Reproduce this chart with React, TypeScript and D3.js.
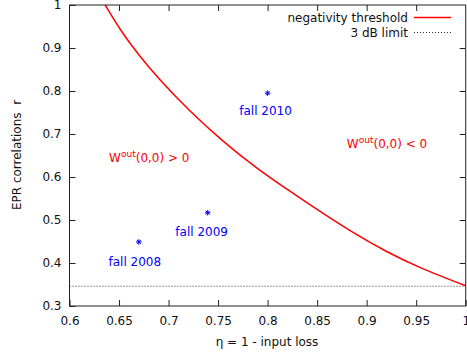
import React, { useEffect, useRef } from 'react';
import * as d3 from 'd3';

// axis ticks
const etaTicks = [0.6, 0.65, 0.7, 0.75, 0.8, 0.85, 0.9, 0.95, 1];
const rTicks = [0.3, 0.4, 0.5, 0.6, 0.7, 0.8, 0.9, 1];

// negativity threshold curve
const thresholdEta = [0.636, 0.651, 0.671, 0.691, 0.72, 0.755, 0.789, 0.823, 0.852, 0.887, 0.92, 0.954, 1.0];
const thresholdR = [1.0, 0.942, 0.88, 0.826, 0.756, 0.682, 0.62, 0.566, 0.521, 0.469, 0.426, 0.388, 0.347];

// 3 dB limit
const limit3dB = 0.346;

// measured runs
const runLabels = ['fall 2008', 'fall 2009', 'fall 2010'];
const runEta = [0.670, 0.7395, 0.800];
const runR = [0.449, 0.517, 0.795];

const App = () => {
  const svgRef = useRef<SVGSVGElement>(null);

  useEffect(() => {
    document.body.style.margin = '0';
    const W = 467, H = 356;
    const margin = { top: 5, right: 1.3, bottom: 50, left: 69.5 };
    const width = W - margin.left - margin.right;
    const height = H - margin.top - margin.bottom;
    const font = '"DejaVu Sans", sans-serif';

    d3.select(svgRef.current).selectAll('*').remove();

    const svg = d3.select(svgRef.current)
      .attr('width', W)
      .attr('height', H)
      .style('font-family', font);

    const g = svg.append('g')
      .attr('transform', `translate(${margin.left},${margin.top})`);

    const x = d3.scaleLinear().domain([0.6, 1]).range([0, width]);
    const y = d3.scaleLinear().domain([0.3, 1]).range([height, 0]);

    const fmt = d3.format('~g');

    // axes with inward ticks, mirrored
    g.append('g')
      .attr('transform', `translate(0,${height})`)
      .call(d3.axisBottom(x).tickValues(etaTicks).tickFormat(fmt as any)
        .tickSizeInner(-6).tickSizeOuter(0).tickPadding(10.5))
      .call(a => a.select('.domain').remove())
      .call(a => a.selectAll('.tick line').attr('stroke', '#222'))
      .call(a => a.selectAll('.tick text').attr('fill', '#111')
        .style('font-size', '12px').style('font-family', font));

    g.append('g')
      .call(d3.axisTop(x).tickValues(etaTicks.slice(1, -1)).tickFormat(() => '')
        .tickSizeInner(-6).tickSizeOuter(0))
      .call(a => a.select('.domain').remove())
      .call(a => a.selectAll('.tick line').attr('stroke', '#222'));

    g.append('g')
      .call(d3.axisLeft(y).tickValues(rTicks).tickFormat(fmt as any)
        .tickSizeInner(-6).tickSizeOuter(0).tickPadding(8))
      .call(a => a.select('.domain').remove())
      .call(a => a.selectAll('.tick line').attr('stroke', '#222'))
      .call(a => a.selectAll('.tick text').attr('fill', '#111')
        .style('font-size', '12px').style('font-family', font));

    g.append('g')
      .attr('transform', `translate(${width},0)`)
      .call(d3.axisRight(y).tickValues(rTicks.slice(1, -1)).tickFormat(() => '')
        .tickSizeInner(-6).tickSizeOuter(0))
      .call(a => a.select('.domain').remove())
      .call(a => a.selectAll('.tick line').attr('stroke', '#222'));

    // 3 dB limit
    g.append('line')
      .attr('x1', 0).attr('x2', width)
      .attr('y1', y(limit3dB)).attr('y2', y(limit3dB))
      .attr('stroke', '#333')
      .attr('stroke-width', 1)
      .attr('stroke-dasharray', '1,2');

    // threshold curve (smoothed through the read-off points)
    const pts = thresholdEta.map((e, i) => [e, thresholdR[i]] as [number, number]);
    const line = d3.line<[number, number]>()
      .x(d => x(d[0]))
      .y(d => y(d[1]))
      .curve(d3.curveBasis);
    g.append('path')
      .datum(pts)
      .attr('d', line)
      .attr('fill', 'none')
      .attr('stroke', '#ff0000')
      .attr('stroke-width', 1.5);

    // border
    g.append('rect')
      .attr('x', 0).attr('y', 0)
      .attr('width', width).attr('height', height)
      .attr('fill', 'none')
      .attr('stroke', '#222')
      .attr('stroke-width', 1);

    // measured points
    const s = 2.8, d = 2.0;
    const star = `M${-s},0H${s}M0,${-s}V${s}M${-d},${-d}L${d},${d}M${-d},${d}L${d},${-d}`;
    const labelDx = [-4, -6, -2];
    const labelDy = [23.7, 23, 21.7];
    runLabels.forEach((lab, i) => {
      const px = x(runEta[i]), py = y(runR[i]);
      g.append('path')
        .attr('d', star)
        .attr('transform', `translate(${px},${py})`)
        .attr('stroke', '#0000ff')
        .attr('stroke-width', 1)
        .attr('fill', 'none');
      g.append('text')
        .attr('x', px + labelDx[i])
        .attr('y', py + labelDy[i])
        .attr('text-anchor', 'middle')
        .attr('fill', '#0000ff')
        .style('font-size', '12px')
        .text(lab);
    });

    // region annotations
    const regions = [
      { eta: 0.64, r: 0.635, sign: '> 0' },
      { eta: 0.88, r: 0.667, sign: '< 0' },
    ];
    regions.forEach(reg => {
      const t = g.append('text')
        .attr('x', x(reg.eta))
        .attr('y', y(reg.r))
        .attr('fill', '#ff0000')
        .style('font-size', '12px');
      t.append('tspan').text('W');
      t.append('tspan').attr('dy', -5).style('font-size', '9px').text('out');
      t.append('tspan').attr('dy', 5).text(`(0,0) ${reg.sign}`);
    });

    // legend
    const legend = svg.append('g');
    const items = [
      { label: 'negativity threshold', color: '#ff0000', dash: null, w: 1.5 },
      { label: '3 dB limit', color: '#333', dash: '1,2', w: 1 },
    ];
    items.forEach((it, i) => {
      const ly = 17.5 + i * 15;
      legend.append('text')
        .attr('x', 408)
        .attr('y', ly)
        .attr('dy', '0.35em')
        .attr('text-anchor', 'end')
        .attr('fill', '#111')
        .style('font-size', '12px')
        .text(it.label);
      legend.append('line')
        .attr('x1', 414).attr('x2', 451)
        .attr('y1', ly).attr('y2', ly)
        .attr('stroke', it.color)
        .attr('stroke-width', it.w)
        .attr('stroke-dasharray', it.dash);
    });

    // axis titles
    svg.append('text')
      .attr('x', 267)
      .attr('y', 346)
      .attr('text-anchor', 'middle')
      .attr('fill', '#111')
      .style('font-size', '12px')
      .text('η = 1 - input loss');

    svg.append('text')
      .attr('transform', 'translate(21,155) rotate(-90)')
      .attr('text-anchor', 'middle')
      .attr('fill', '#111')
      .style('font-size', '12px')
      .style('white-space', 'pre')
      .text('EPR correlations  r');
  }, []);

  return <svg ref={svgRef} style={{ display: 'block' }}></svg>;
};

export default App;
